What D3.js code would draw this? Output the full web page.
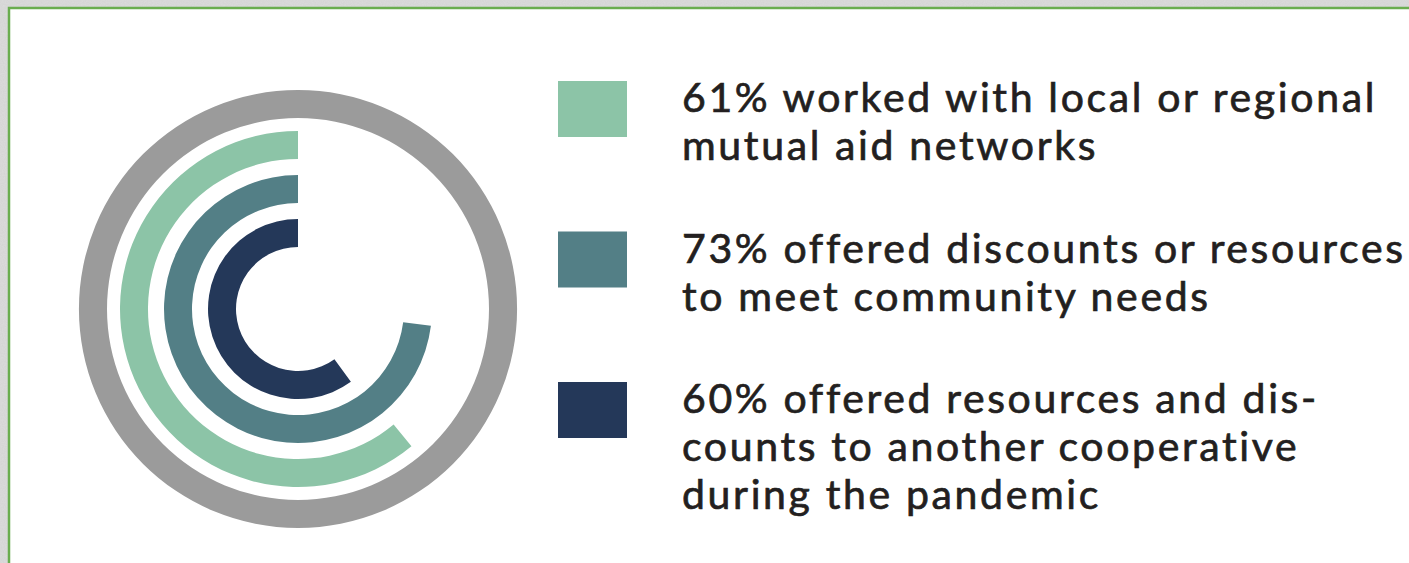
<!DOCTYPE html>
<html>
<head>
<meta charset="utf-8">
<script src="https://cdn.jsdelivr.net/npm/d3@7"></script>
<style>
  html, body { margin: 0; padding: 0; background: #d9d9d9; }
  svg { display: block; }
</style>
</head>
<body>
<svg id="chart" width="1409" height="563"></svg>
<script>
const categories = ["mutual aid", "community needs", "other cooperative"];
const values = [61, 73, 60];
const colors = ["#8cc4a7", "#537f86", "#243859"];
const legendLines = [
  ["61% worked with local or regional", "mutual aid networks"],
  ["73% offered discounts or resources", "to meet community needs"],
  ["60% offered resources and dis-", "counts to another cooperative", "during the pandemic"]
];

const svg = d3.select("#chart");
const W = 1409, H = 563;

// textured page background + framed white panel
const defs = svg.append("defs");
const f = defs.append("filter").attr("id", "grain");
f.append("feTurbulence").attr("type", "fractalNoise").attr("baseFrequency", 0.9).attr("numOctaves", 2).attr("seed", 3);
f.append("feColorMatrix").attr("type", "matrix")
  .attr("values", "0 0 0 0 0.55  0 0 0 0 0.55  0 0 0 0 0.55  0 0 0 0.35 0");
svg.append("rect").attr("width", W).attr("height", H).attr("fill", "#dcdcdc");
svg.append("rect").attr("width", W).attr("height", H).attr("filter", "url(#grain)");
svg.append("rect").attr("x", 9).attr("y", 8).attr("width", W).attr("height", H).attr("fill", "#fff");
svg.append("path").attr("d", `M9,${H} V8 H${W}`).attr("fill", "none")
  .attr("stroke", "#6aad4f").attr("stroke-width", 2.5);

// radial bars
const cx = 298, cy = 309;
const g = svg.append("g").attr("transform", `translate(${cx},${cy})`);

const angle = d3.scaleLinear().domain([0, 100]).range([0, -2 * Math.PI]);
const ring = d3.scaleBand().domain(categories.slice().reverse()).range([62, 178]).paddingInner(0.364);

g.append("path")
  .attr("d", d3.arc()({ innerRadius: 191, outerRadius: 219, startAngle: 0, endAngle: 2 * Math.PI }))
  .attr("fill", "#9b9b9b");

const arc = d3.arc()
  .innerRadius(d => ring(d.cat))
  .outerRadius(d => ring(d.cat) + ring.bandwidth())
  .startAngle(0)
  .endAngle(d => angle(d.value));

g.selectAll("path.bar")
  .data(categories.map((c, i) => ({ cat: c, value: values[i], color: colors[i] })))
  .enter().append("path")
  .attr("class", "bar")
  .attr("d", arc)
  .attr("fill", d => d.color);

// legend
const rowY = d3.scalePoint().domain(categories).range([81, 382]);
const legend = svg.append("g");
const rows = legend.selectAll("g.row")
  .data(categories.map((c, i) => ({ cat: c, color: colors[i], lines: legendLines[i] })))
  .enter().append("g").attr("class", "row")
  .attr("transform", d => `translate(558,${rowY(d.cat)})`);

rows.append("rect").attr("width", 69).attr("height", 56).attr("fill", d => d.color);

const fontSize = 41, lineH = 48;
const texts = rows.append("text")
  .attr("x", 124)
  .attr("y", 31)
  .style("font-family", "Lato, 'Noto Sans', sans-serif")
  .style("font-size", fontSize + "px")
  .attr("fill", "#231f20")
  .attr("stroke", "#231f20")
  .attr("stroke-width", 0.7);

texts.selectAll("tspan")
  .data(d => d.lines)
  .enter().append("tspan")
  .attr("x", 124)
  .attr("dy", (d, i) => i === 0 ? 0 : lineH)
  .text(d => d);

// widen the tracking so the first line spans the width seen in the reference
const first = texts.select("tspan");
const w = first.node().getComputedTextLength();
const n = first.text().length;
texts.style("letter-spacing", ((695 - w) / n) + "px");
</script>
</body>
</html>
